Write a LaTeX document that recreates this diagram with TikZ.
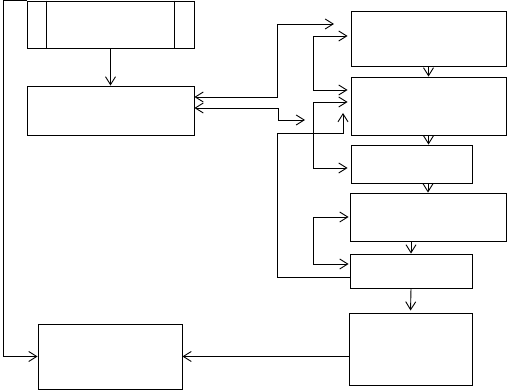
\documentclass[tikz,border=0pt]{standalone}
\usetikzlibrary{arrows.meta}
\begin{document}
\begin{tikzpicture}[x=1pt,y=-1pt,
    blk/.style={draw=black,line width=0.9pt,inner sep=0pt},
    arr/.style={line width=0.9pt,-{Straight Barb[length=8pt,width=10pt]}},
    darr/.style={line width=0.9pt,{Straight Barb[length=8pt,width=10pt]}-{Straight Barb[length=8pt,width=10pt]}}]
  \useasboundingbox (0,0) rectangle (507,390);
  % left column
  \node[blk,minimum width=167pt,minimum height=47pt] (proc)  at (110.5,24.5) {};
  \node[blk,minimum width=167pt,minimum height=49pt] (stepB) at (110.5,110.5) {};
  \node[blk,minimum width=144pt,minimum height=65pt] (out)   at (110,356.5) {};
  \draw[line width=0.9pt] ([xshift=20pt]proc.north west) -- ([xshift=20pt]proc.south west)
        ([xshift=-20pt]proc.north east) -- ([xshift=-20pt]proc.south east);
  % right column
  \node[blk,minimum width=155pt,minimum height=55pt] (r1) at (428.5,38.5) {};
  \node[blk,minimum width=155pt,minimum height=58pt] (r2) at (428.5,106) {};
  \node[blk,minimum width=121pt,minimum height=38pt] (r3) at (411.5,164) {};
  \node[blk,minimum width=156pt,minimum height=48pt] (r4) at (428,217) {};
  \node[blk,minimum width=122pt,minimum height=34pt] (r5) at (411,271) {};
  \node[blk,minimum width=123pt,minimum height=72pt] (r6) at (410.5,349) {};
  % free ends
  \coordinate (lft)  at (3,0);
  \coordinate (tipA) at (334,24);
  \coordinate (tipB) at (305,120);
  \coordinate (tipC) at (343,113);
  % flow down
  \draw[arr] (proc.south) -- (stepB.north);
  \draw[arr] (r1.south) -- (r2.north);
  \draw[arr] (r2.south) -- (r2.south |- r3.north);
  \draw[arr] (r3.south -| r4.north) -- (r4.north);
  \draw[arr] (r4.south -| r5.north) -- (r5.north);
  \draw[arr,shorten >=2pt] (r5.south) -- (r6.north);
  % feedback and output
  \draw[arr] (proc.north west) -- (proc.north west -| lft) |- (out.west);
  \draw[arr] (out.east -| r6.west) -- (out.east);
  % links to the right column
  \draw[darr] ([yshift=13.5pt]stepB.east) -- ++(83,0) |- (tipA);
  \draw[darr] ([yshift=2.5pt]stepB.east) -- ++(84,0) |- (tipB);
  \draw[darr,shorten <=3pt,shorten >=3pt] ([yshift=2.5pt]r1.west) -- ++(-37,0) |- ([yshift=16pt]r2.west);
  \draw[darr,shorten <=3pt,shorten >=3pt] ([yshift=4pt]r2.west) -- ++(-37,0) |- ([yshift=-4pt]r3.west);
  \draw[darr,shorten <=1pt,shorten >=1pt] (r4.west) -- ++(-36,0) |- ([yshift=7pt]r5.west);
  \draw[arr] ([yshift=-6pt]r5.west) -- ++(-72,0) |- ([yshift=-20pt]tipC) -- (tipC);
\end{tikzpicture}
\end{document}
